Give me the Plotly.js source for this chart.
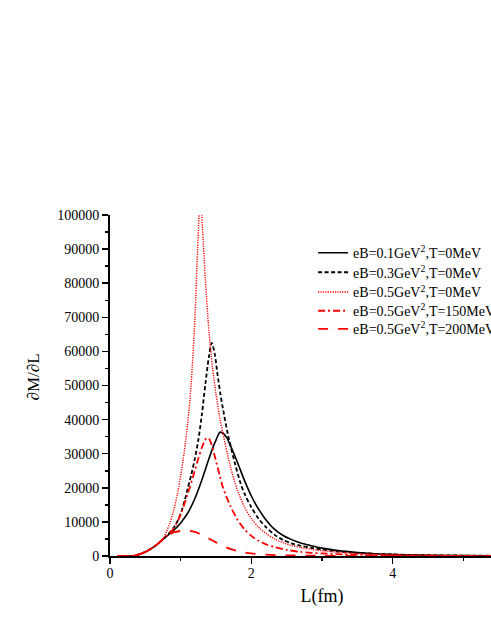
<!DOCTYPE html>
<html>
<head>
<meta charset="utf-8">
<script src="https://cdn.plot.ly/plotly-3.0.1.min.js"></script>
<style>
    html, body { margin: 0; padding: 0; overflow: hidden; background: #ffffff; }
    #plot { width: 560px; height: 635px; }
</style>
</head>
<body>
<div id="plot"></div>
<script>
// shared rising part, all curves sit on top of each other here
const lowL = [0.1, 0.3, 0.35, 0.4, 0.45, 0.5, 0.55, 0.6, 0.65, 0.7, 0.75]
const lowV = [0, 0, 100, 380, 750, 1200, 1750, 2400, 3150, 4000, 4900]

const seriesNames = [
    "eB=0.1GeV<sup>2</sup>,T=0MeV",
    "eB=0.3GeV<sup>2</sup>,T=0MeV",
    "eB=0.5GeV<sup>2</sup>,T=0MeV",
    "eB=0.5GeV<sup>2</sup>,T=150MeV",
    "eB=0.5GeV<sup>2</sup>,T=200MeV"
]

// eB=0.1, T=0
const lA = [0.8, 0.9, 1.0, 1.1, 1.2, 1.3, 1.4, 1.46, 1.5, 1.556, 1.6, 1.65, 1.7, 1.79, 1.91, 2.0, 2.1, 2.2, 2.33, 2.45, 2.57, 2.7, 2.85, 3.0, 3.2, 3.4, 3.6, 3.8, 4.05, 4.5, 5.0, 5.5, 6.0]
const vA = [5800, 7500, 9700, 12600, 16800, 22300, 28500, 32000, 34000, 36300, 36000, 34800, 32600, 28150, 21800, 17600, 13800, 10800, 7800, 6000, 4800, 3800, 3000, 2300, 1650, 1200, 850, 600, 400, 220, 120, 70, 40]

// eB=0.3, T=0
const lB = [0.8, 0.85, 0.9, 0.94, 1.0, 1.06, 1.1, 1.15, 1.2, 1.25, 1.3, 1.35, 1.4, 1.44, 1.48, 1.52, 1.56, 1.6, 1.67, 1.77, 1.85, 1.91, 2.0, 2.1, 2.2, 2.33, 2.45, 2.57, 2.7, 2.85, 3.0, 3.2, 3.5, 4.0, 4.5, 5.0, 5.5, 6.0]
const vB = [5900, 7000, 8300, 9600, 12400, 16500, 19800, 23800, 28500, 34000, 41500, 50500, 58500, 62500, 59500, 53500, 47800, 43000, 35500, 27000, 21200, 18000, 14300, 11000, 8600, 6200, 4700, 3700, 3000, 2400, 1900, 1400, 900, 450, 230, 130, 80, 50]

// eB=0.5, T=0
const lC = [0.8, 0.85, 0.9, 0.95, 1.0, 1.05, 1.1, 1.15, 1.2, 1.24, 1.275, 1.29, 1.32, 1.35, 1.4, 1.45, 1.5, 1.55, 1.6, 1.7, 1.8, 1.9, 2.0, 2.1, 2.2, 2.33, 2.45, 2.57, 2.7, 2.85, 3.0, 3.2, 3.5, 4.0, 4.5, 5.0, 5.5, 6.0]
const vC = [7200, 9800, 13200, 17800, 23500, 30500, 39000, 51000, 69000, 90000, 104000, 102000, 92000, 81000, 66000, 55500, 47500, 41000, 35800, 26500, 19500, 14500, 11000, 8500, 6700, 5000, 3900, 3100, 2500, 1950, 1550, 1150, 720, 340, 170, 90, 55, 30]

// eB=0.5, T=150
const lD = [0.8, 0.9, 0.94, 1.0, 1.1, 1.2, 1.25, 1.3, 1.34, 1.37, 1.4, 1.44, 1.48, 1.55, 1.6, 1.7, 1.8, 1.9, 2.0, 2.1, 2.2, 2.33, 2.5, 2.7, 3.0, 3.3, 3.6, 4.0, 4.5, 5.0, 5.5, 6.0]
const vD = [5800, 8000, 9400, 12200, 18200, 25000, 28600, 31800, 33800, 34600, 34400, 32600, 29500, 23800, 20000, 14800, 10800, 7900, 5900, 4500, 3500, 2600, 1800, 1200, 750, 460, 290, 160, 80, 40, 20, 10]

// eB=0.5, T=200
const lE = [0.8, 0.85, 0.9, 1.0, 1.1, 1.2, 1.3, 1.4, 1.5, 1.6, 1.7, 1.8, 1.9, 2.0, 2.2, 2.4, 2.7, 3.0, 3.5, 4.0, 5.0, 6.0]
const vE = [5700, 6400, 6900, 7350, 7450, 7050, 6200, 5100, 4000, 2950, 2100, 1500, 1050, 760, 420, 240, 120, 65, 28, 14, 5, 2]

const xTicks = [0, 2, 4, 6]
const yTicks = [0, 10000, 20000, 30000, 40000, 50000, 60000, 70000, 80000, 90000, 100000]

const legendIds = ["legend", "legend2", "legend3", "legend4", "legend5"]
const legendY = [0.888, 0.831, 0.773, 0.718, 0.665]

function curve(i, ls, vs, color, dash, width) {
    return {
        type: "scatter",
        mode: "lines",
        name: seriesNames[i],
        legend: legendIds[i],
        x: lowL.concat(ls),
        y: lowV.concat(vs),
        line: { color: color, dash: dash, width: width, shape: "spline", smoothing: 0.8 }
    }
}

const data = [
    curve(0, lA, vA, "#000000", "solid", 1.6),
    curve(1, lB, vB, "#000000", "4px,2.5px", 1.8),
    curve(2, lC, vC, "#ff0000", "1.2px,1.2px", 1.4),
    curve(3, lD, vD, "#ff0000", "7px,3px,2px,3px", 1.8),
    curve(4, lE, vE, "#ff0000", "10px,10px", 1.8)
]

const serif = "Liberation Serif, serif"
const axisFont = { family: serif, size: 14, color: "#000000" }

const layout = {
    width: 560,
    height: 635,
    margin: { l: 110, r: 26, t: 215, b: 79, pad: 0 },
    paper_bgcolor: "#ffffff",
    plot_bgcolor: "#ffffff",
    font: { family: serif, size: 14, color: "#000000" },
    showlegend: true,
    annotations: [{
        text: "\u2202M/\u2202L",
        xref: "paper",
        yref: "paper",
        x: -0.1816,
        y: 0.5235,
        xanchor: "center",
        yanchor: "middle",
        textangle: -90,
        showarrow: false,
        font: { family: serif, size: 17, color: "#000000" }
    }],
    xaxis: {
        range: [0, 6],
        tickvals: xTicks,
        ticktext: xTicks.map(String),
        ticks: "outside",
        ticklen: 6,
        tickwidth: 1.5,
        tickcolor: "#000000",
        ticklabelstandoff: -3,
        minor: { dtick: 1, tick0: 0, ticks: "outside", ticklen: 3, tickwidth: 1.5, tickcolor: "#000000", showgrid: false },
        showline: true,
        linecolor: "#000000",
        linewidth: 2,
        showgrid: false,
        zeroline: false,
        tickfont: axisFont,
        title: { text: "L(fm)", font: { family: serif, size: 18, color: "#000000" }, standoff: 10 },
        automargin: false
    },
    xaxis2: {
        overlaying: "x",
        side: "top",
        anchor: "y",
        range: [0, 6],
        tickvals: xTicks,
        ticks: "inside",
        ticklen: 6,
        tickwidth: 1.5,
        tickcolor: "#000000",
        minor: { dtick: 1, tick0: 0, ticks: "inside", ticklen: 3, tickwidth: 1.5, tickcolor: "#000000", showgrid: false },
        showticklabels: false,
        showline: true,
        linecolor: "#000000",
        linewidth: 2,
        showgrid: false,
        zeroline: false
    },
    yaxis: {
        range: [0, 100000],
        tickvals: yTicks,
        ticktext: yTicks.map(String),
        ticks: "outside",
        ticklen: 6,
        tickwidth: 1.5,
        tickcolor: "#000000",
        minor: { dtick: 5000, tick0: 0, ticks: "outside", ticklen: 3, tickwidth: 1.5, tickcolor: "#000000", showgrid: false },
        showline: true,
        linecolor: "#000000",
        linewidth: 2,
        mirror: true,
        showgrid: false,
        zeroline: false,
        tickfont: axisFont,
        automargin: false
    }
}

legendIds.forEach((id, i) => {
    layout[id] = {
        x: 0.479,
        y: legendY[i],
        xanchor: "left",
        yanchor: "middle",
        bgcolor: "rgba(0,0,0,0)",
        font: { family: serif, size: 14, color: "#000000" }
    }
})

const config = { staticPlot: true, displayModeBar: false }

Plotly.newPlot("plot", data, layout, config)
</script>
</body>
</html>
